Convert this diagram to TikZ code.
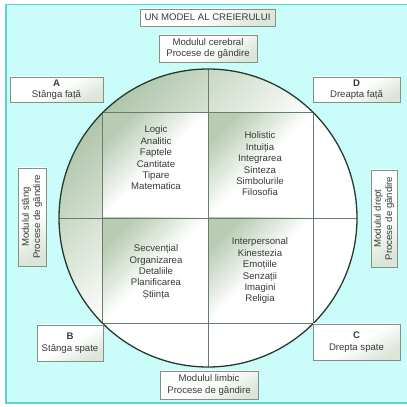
\documentclass[tikz,border=0pt]{standalone}
\usepackage{fontspec}
\setmainfont{Liberation Sans}
\definecolor{bg}{RGB}{202,253,250}
\definecolor{framec}{RGB}{88,214,206}
\definecolor{sage}{RGB}{176,198,170}
\definecolor{boxline}{RGB}{130,145,130}
\definecolor{txt}{RGB}{55,60,55}
\definecolor{circ}{RGB}{35,60,45}
\definecolor{gridc}{RGB}{105,125,108}
\begin{document}
\begin{tikzpicture}[x=1pt,y=1pt,
  font=\fontsize{9.6}{11.4}\selectfont,
  box/.style={draw=boxline, line width=0.8pt, top color=white, bottom color=sage!45, middle color=white, shading angle=30,
    text=txt, align=center, inner sep=0pt, outer sep=0pt},
  celltext/.style={text=txt, align=center, inner sep=0pt},
  cellfill/.style={top color=sage!90, bottom color=white, middle color=white, shading angle=45},
  gridline/.style={draw=gridc, line width=0.8pt}]
\useasboundingbox (0,0) rectangle (407,407);
\fill[white] (0,0) rectangle (407,407);
\fill[bg] (6,4) rectangle (407,402.5);
\draw[framec, line width=1.4pt] (407,402.5) -- (6,402.5) -- (6,4) -- (407,4);

% circle
\node[circle, minimum size=298pt, inner sep=0pt, outer sep=0pt,
      top color=sage, bottom color=white, middle color=white, shading angle=45] (brain) at (208,189) {};
% cells
\path[cellfill] (brain.135) rectangle (brain.center);
\path[cellfill] (brain.center |- brain.135) rectangle (brain.center -| brain.45);
\path[cellfill] (brain.center -| brain.135) rectangle (brain.center |- brain.-135);
\path[cellfill] (brain.center) rectangle (brain.-45);
% grid lines
\draw[gridline] (brain.135) rectangle (brain.-45);
\draw[gridline] (brain.north) -- (brain.south);
\draw[gridline] (brain.west) -- (brain.east);
\draw[circ, line width=1.3pt] (brain.center) circle[radius=149];

% cell texts
\node[celltext] (logic) at (156,249) {Logic\\Analitic\\Faptele\\Cantitate\\Tipare\\Matematica};
\node[celltext] (holistic) at (260,243) {Holistic\\Intuiția\\Integrarea\\Sinteza\\Simbolurile\\Filosofia};
\node[celltext] (secv) at (156,135) {Secvențial\\Organizarea\\Detaliile\\Planificarea\\Știința};
\node[celltext] (inter) at (260,136) {Interpersonal\\Kinestezia\\Emoțiile\\Senzații\\Imagini\\Religia};

% boxes
\node[box, minimum width=135pt, minimum height=17pt] (title) at (207.5,389.5) {UN MODEL AL CREIERULUI};
\node[box, minimum width=98pt, minimum height=27pt] (cerebral) at (208,358.5) {Modulul cerebral\\Procese de gândire};
\node[box, minimum width=93pt, minimum height=25pt] (A) at (56.5,317.5) {\textbf{A}\\Stânga față};
\node[box, minimum width=87pt, minimum height=25pt] (D) at (356.5,317.5) {\textbf{D}\\Dreapta față};
\node[box, minimum width=66pt, minimum height=36pt] (B) at (70,64) {\textbf{B}\\Stânga spate};
\node[box, minimum width=87pt, minimum height=36pt] (C) at (356.5,65) {\textbf{C}\\Drepta spate};
\node[box, minimum width=98pt, minimum height=28pt] (limbic) at (209,22) {Modulul limbic\\Procese de gândire};
\node[box, rotate=90, minimum width=98pt, minimum height=28pt] (left) at (32,190) {Modulul stâng\\Procese de gândire};
\node[box, rotate=90, minimum width=97pt, minimum height=26pt] (right) at (384,188.5) {Modulul drept\\Procese de gândire};
\end{tikzpicture}
\end{document}
